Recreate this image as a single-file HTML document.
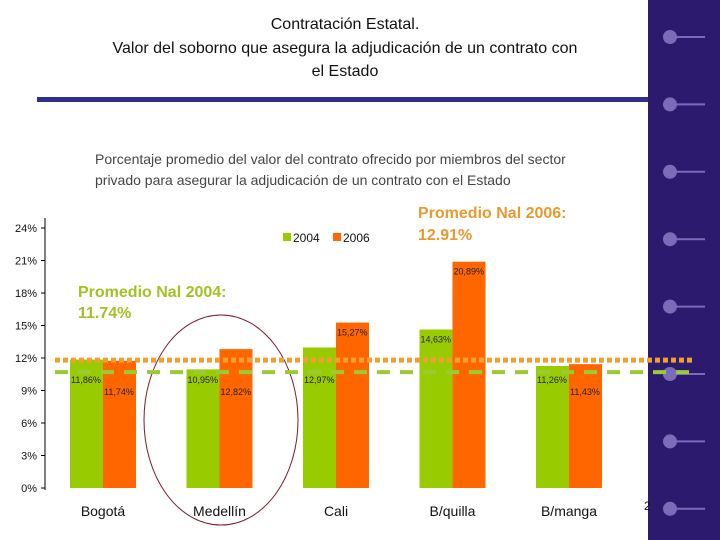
<!DOCTYPE html>
<html><head><meta charset="utf-8"><style>
body{margin:0;background:#fff;}
svg{display:block;font-family:"Liberation Sans",Arial,sans-serif;}
</style></head><body>
<svg id="c" width="720" height="540" viewBox="0 0 720 540">
<rect x="648" y="0" width="72" height="540" fill="#2b1a6d"/>
<g id="dots"></g>
<text x="345" y="29" text-anchor="middle" font-size="16" fill="#111">Contratación Estatal.</text>
<text x="345" y="53" text-anchor="middle" font-size="16" fill="#111">Valor del soborno que asegura la adjudicación de un contrato con</text>
<text x="345" y="76" text-anchor="middle" font-size="16" fill="#111">el Estado</text>
<rect x="37" y="97" width="611" height="5" fill="#2e2e8c"/>
<text x="95" y="164" font-size="14" fill="#444">Porcentaje promedio del valor del contrato ofrecido por miembros del sector</text>
<text x="95" y="185" font-size="14" fill="#444">privado para asegurar la adjudicación de un contrato con el Estado</text>
<g id="chart"></g>
<rect x="283" y="233" width="8" height="8" fill="#99cc00"/>
<text x="293" y="242" font-size="12" fill="#111">2004</text>
<rect x="333" y="233" width="8" height="8" fill="#ff6600"/>
<text x="343" y="242" font-size="12" fill="#111">2006</text>
<text x="418" y="218" font-size="16" font-weight="bold" fill="#e89a30">Promedio Nal 2006:</text>
<text x="418" y="240" font-size="16" font-weight="bold" fill="#e89a30">12.91%</text>
<text x="78" y="297" font-size="16" font-weight="bold" fill="#a2c224">Promedio Nal 2004:</text>
<text x="78" y="318" font-size="16" font-weight="bold" fill="#a2c224">11.74%</text>
<ellipse cx="221" cy="420" rx="77" ry="105" fill="none" stroke="#7a1a2a" stroke-width="1"/>
<text x="644" y="510" font-size="12" fill="#111">2</text>
</svg>
<script>
const categories=["Bogotá","Medellín","Cali","B/quilla","B/manga"];
const s2004=[11.86,10.95,12.97,14.63,11.26];
const s2006=[11.74,12.82,15.27,20.89,11.43];
const l2004=["11,86%","10,95%","12,97%","14,63%","11,26%"];
const l2006=["11,74%","12,82%","15,27%","20,89%","11,43%"];
const ticks=[0,3,6,9,12,15,18,21,24];
const avgLines=[11.8,10.7];
const NS="http://www.w3.org/2000/svg";
const g=document.getElementById('chart');
function y(v){return 488-v*260/24;}
function x(i){return 70+i*116.5;}
function mk(t,a,p){const e=document.createElementNS(NS,t);for(const k in a)e.setAttribute(k,a[k]);(p||g).appendChild(e);return e;}
function labY(v,low){let ly=y(v)+13;if(ly>345&&ly<396)ly=low;return ly;}
const ax=mk('line',{x1:45,y1:218,x2:45,y2:490,stroke:'#000','stroke-width':1});


ticks.forEach(t=>{
 const l=mk('line',{x1:41,y1:y(t),x2:45,y2:y(t),stroke:'#000'});
 
 
 const tx=mk('text',{x:37,y:y(t)+4,'text-anchor':'end','font-size':11,fill:'#111'});
 tx.textContent=t+'%';
 
 
});
categories.forEach((c,i)=>{
 const b1=mk('rect',{x:x(i),y:y(s2004[i]),width:33,height:y(0)-y(s2004[i]),fill:'#99cc00'});
 
 
 const b2=mk('rect',{x:x(i)+33,y:y(s2006[i]),width:33,height:y(0)-y(s2006[i]),fill:'#ff6600'});
 
 
 const t1=mk('text',{x:x(i)+1,y:labY(s2004[i],383),'font-size':9,fill:'#222'});
 t1.textContent=l2004[i];
 
 
 const t2=mk('text',{x:x(i)+34,y:labY(s2006[i],395),'font-size':9,fill:'#222'});
 t2.textContent=l2006[i];
 
 
 const cl=mk('text',{x:x(i)+33,y:516,'text-anchor':'middle','font-size':14,fill:'#111'});
 cl.textContent=c;
 
 
});
const dg=document.getElementById('dots');
for(let k=0;k<8;k++){
 const cy=37+k*67.4;
 const ln=mk('line',{x1:670,y1:cy,x2:705,y2:cy,stroke:'#7a6cb8','stroke-width':2},dg);
 
 
 const ci=mk('circle',{cx:670,cy:cy,r:7,fill:'#7a6cb8'},dg);
 
 
}
const svg=document.getElementById('c');
const d1=mk('line',{x1:55,y1:y(avgLines[0]),x2:695,y2:y(avgLines[0]),stroke:'#f0a030','stroke-width':5,'stroke-dasharray':'5 3'},svg);


const d2=mk('line',{x1:55,y1:y(avgLines[1]),x2:695,y2:y(avgLines[1]),stroke:'#99cc33','stroke-width':4,'stroke-dasharray':'13 10'},svg);


</script>
</body></html>
